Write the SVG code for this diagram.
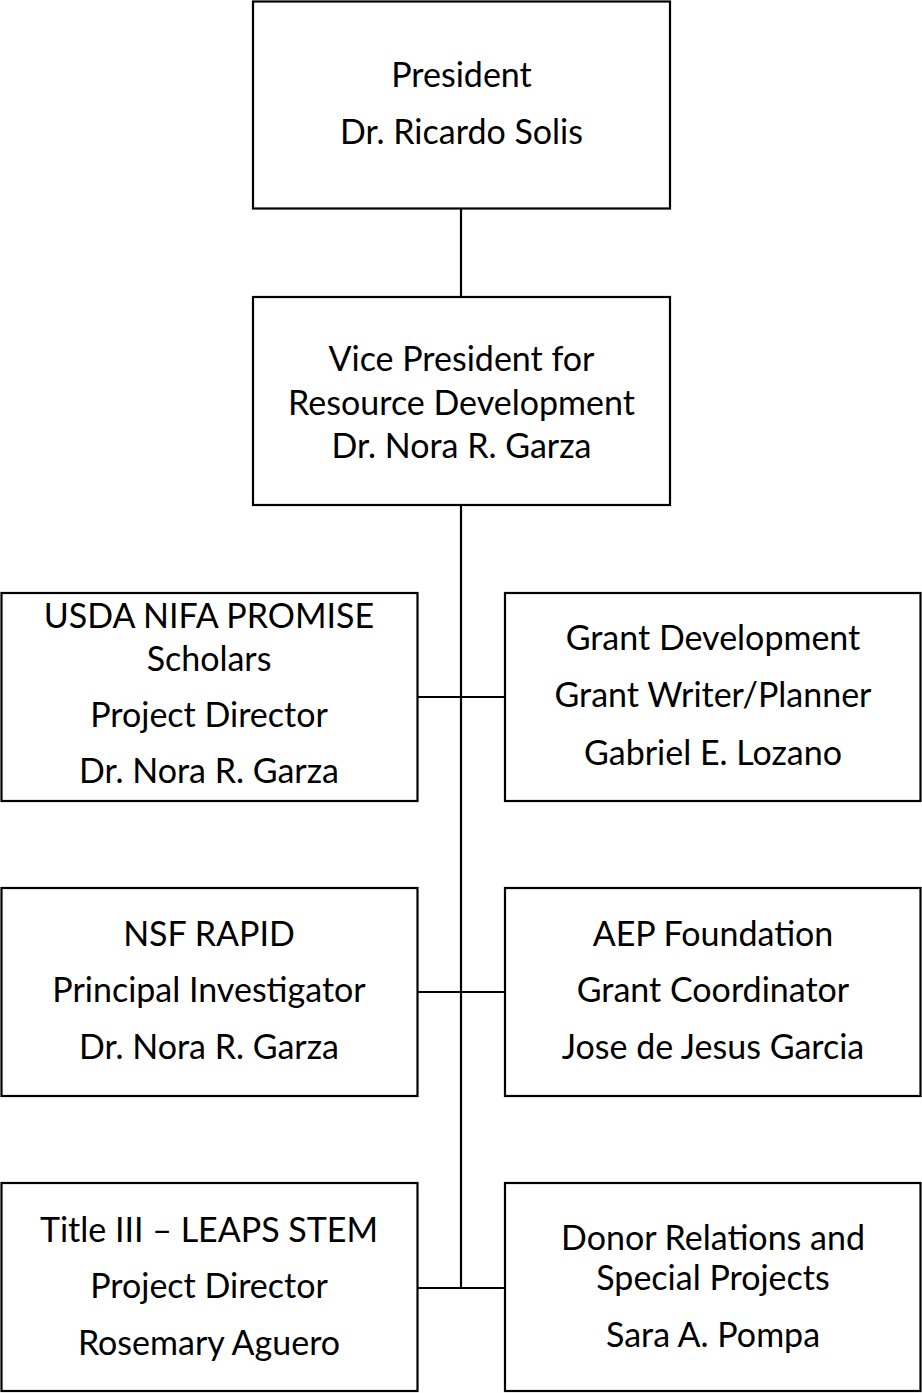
<svg xmlns="http://www.w3.org/2000/svg" width="922" height="1393" viewBox="0 0 922 1393">
<style>
rect.box{fill:#fff;stroke:#000;stroke-width:2.2}
.conn line{stroke:#000;stroke-width:2.2}
text{font-family:Lato,"Open Sans",sans-serif;font-size:34px;fill:#000;text-anchor:middle}
</style>
<rect width="922" height="1393" fill="#fff"/>
<g class="conn" id="connectors">
<line x1="461" y1="208" x2="461" y2="298"/>
<line x1="461" y1="505" x2="461" y2="1289"/>
<line x1="417" y1="697" x2="505" y2="697"/>
<line x1="417" y1="992" x2="505" y2="992"/>
<line x1="417" y1="1288" x2="505" y2="1288"/>
</g>
<g id="president"><rect class="box" x="253" y="1.5" width="417" height="207"/>
<text x="461.5" y="87">President</text><text x="461.5" y="144">Dr. Ricardo Solis</text></g>
<g id="vp"><rect class="box" x="253" y="297" width="417" height="208"/>
<text x="461.5" y="371">Vice President for</text><text x="461.5" y="415">Resource Development</text><text x="461.5" y="458">Dr. Nora R. Garza</text></g>
<g id="usda"><rect class="box" x="1.5" y="593" width="416" height="208"/>
<text x="209" y="628">USDA NIFA PROMISE</text><text x="209" y="671">Scholars</text><text x="209" y="727">Project Director</text><text x="209" y="783">Dr. Nora R. Garza</text></g>
<g id="grant"><rect class="box" x="505" y="593" width="415.5" height="208"/>
<text x="713" y="650">Grant Development</text><text x="713" y="707">Grant Writer/Planner</text><text x="713" y="765">Gabriel E. Lozano</text></g>
<g id="nsf"><rect class="box" x="1.5" y="888" width="416" height="208"/>
<text x="209" y="946">NSF RAPID</text><text x="209" y="1002">Principal Investigator</text><text x="209" y="1059">Dr. Nora R. Garza</text></g>
<g id="aep"><rect class="box" x="505" y="888" width="415.5" height="208"/>
<text x="713" y="946">AEP Foundation</text><text x="713" y="1002">Grant Coordinator</text><text x="713" y="1059">Jose de Jesus Garcia</text></g>
<g id="title3"><rect class="box" x="1.5" y="1183" width="416" height="208"/>
<text x="209" y="1242">Title III – LEAPS STEM</text><text x="209" y="1298">Project Director</text><text x="209" y="1355">Rosemary Aguero</text></g>
<g id="donor"><rect class="box" x="505" y="1183" width="415.5" height="208"/>
<text x="713" y="1250">Donor Relations and</text><text x="713" y="1290">Special Projects</text><text x="713" y="1347">Sara A. Pompa</text></g>
</svg>
